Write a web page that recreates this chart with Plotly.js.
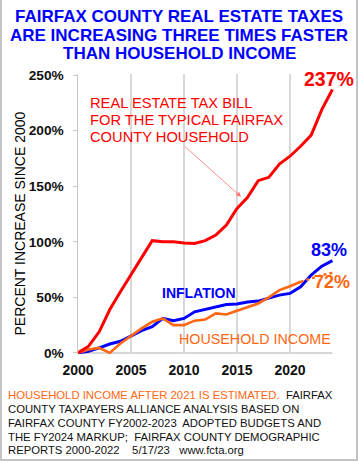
<!DOCTYPE html>
<html>
<head>
<meta charset="utf-8">
<script src="https://cdn.plot.ly/plotly-3.0.1.min.js"></script>
<style>
  html, body { margin: 0; padding: 0; background: #fff; }
  #chart { width: 358px; height: 462px; }
  #frame { position: absolute; left: 0; top: 0; width: 358px; height: 461px; box-sizing: border-box;
           border-left: 2px solid #c4c4c4; border-right: 2px solid #c4c4c4; border-bottom: 2px solid #c4c4c4;
           pointer-events: none; }
</style>
</head>
<body>
<div id="chart"></div>
<div id="frame"></div>
<script>
// ---- data (percent increase since 2000) ----
const years = [2000,2001,2002,2003,2004,2005,2006,2007,2008,2009,2010,2011,2012,2013,2014,2015,2016,2017,2018,2019,2020,2021,2022,2023,2024];
const taxBill = [0,6,19,39,55,70,85,101,100,100,99,98.5,101,106,115,130,140,155,158,170,177,186,196,219,237];
const inflation = [0,1.5,4.5,8,10.5,15,20,23.5,31,29,31,37,39,41.5,43.6,44,45.7,46.6,49.6,52,53.5,59.5,70,78,83];
const incomeYears = [2000,2001,2002,2003,2004,2005,2006,2007,2008,2009,2010,2011,2012,2013,2014,2015,2016,2017,2018,2019,2020,2021];
const income = [0,3,4.5,0,8.5,15.6,22,28,31,25,25,29,30,35.5,34.6,38,41,44.5,50,56.5,60,64];
const incomeEstYears = [2021,2022,2023,2024];
const incomeEst = [64,67,70,72];
const xTicks = [2000,2005,2010,2015,2020];
const yTicks = [0,50,100,150,200,250];
const yTickText = ['0%','50%','100%','150%','200%','250%'];

const RED = '#ff0000', BLUE = '#0000ff', ORANGE = '#ff6611';
const FONT = 'Liberation Sans, Arial, sans-serif';

const traces = [
  {x: years, y: inflation, mode: 'lines', line: {color: BLUE, width: 3}, cliponaxis: false},
  {x: incomeYears, y: income, mode: 'lines', line: {color: ORANGE, width: 2.6}, cliponaxis: false},
  {x: incomeEstYears, y: incomeEst, mode: 'lines', line: {color: ORANGE, width: 2.4, dash: 'dot'}, cliponaxis: false},
  {x: years, y: taxBill, mode: 'lines', line: {color: RED, width: 3}, cliponaxis: false}
];

const L = 78, W = 265, T = 74, H = 280;
function px(x) { return (x - L) / W; }
function py(y) { return (T + H - y) / H; }

const ann = [];
const titleLines = ['FAIRFAX COUNTY REAL ESTATE TAXES', 'ARE INCREASING THREE TIMES FASTER', 'THAN HOUSEHOLD INCOME'];
const titleY = [16, 35, 53];
titleLines.forEach((t, i) => ann.push({text: '<b>' + t + '</b>', xref: 'paper', yref: 'paper', x: px(179), y: py(titleY[i]),
  xanchor: 'center', yanchor: 'middle', showarrow: false, font: {family: FONT, size: 17, color: BLUE}}));

ann.push({text: 'PERCENT INCREASE SINCE 2000', xref: 'paper', yref: 'paper', x: px(19), y: py(223.5), textangle: -90,
  xanchor: 'center', yanchor: 'middle', showarrow: false, font: {family: FONT, size: 14, color: '#000'}});

const taxLines = ['REAL ESTATE TAX BILL', 'FOR THE TYPICAL FAIRFAX', 'COUNTY HOUSEHOLD'];
const taxY = [103, 120, 137];
taxLines.forEach((t, i) => ann.push({text: t, xref: 'paper', yref: 'paper', x: px(88), y: py(taxY[i]),
  xanchor: 'left', yanchor: 'middle', showarrow: false, font: {family: FONT, size: 14.7, color: RED}}));

ann.push({text: '', x: 2015.38, y: 140.5, xref: 'x', yref: 'y', showarrow: true, ax: -57.7, ay: -51.7,
  arrowcolor: '#ff7070', arrowwidth: 0.8, arrowhead: 2, arrowsize: 1.2});

ann.push({text: '<b>237%</b>', xref: 'paper', yref: 'paper', x: px(328.5), y: py(79), xanchor: 'center', yanchor: 'middle',
  showarrow: false, font: {family: FONT, size: 19.5, color: RED}});
ann.push({text: '<b>83%</b>', xref: 'paper', yref: 'paper', x: px(328.7), y: py(250), xanchor: 'center', yanchor: 'middle',
  showarrow: false, font: {family: FONT, size: 18, color: BLUE}});
ann.push({text: '<b>72%</b>', xref: 'paper', yref: 'paper', x: px(332.3), y: py(281.7), xanchor: 'center', yanchor: 'middle',
  showarrow: false, font: {family: FONT, size: 18, color: ORANGE}});
ann.push({text: '<b>INFLATION</b>', xref: 'paper', yref: 'paper', x: px(199.2), y: py(292.5), xanchor: 'center', yanchor: 'middle',
  showarrow: false, font: {family: FONT, size: 14, color: BLUE}});
ann.push({text: 'HOUSEHOLD INCOME', xref: 'paper', yref: 'paper', x: px(255.2), y: py(339), xanchor: 'center', yanchor: 'middle',
  showarrow: false, font: {family: FONT, size: 14.3, color: ORANGE}});

const foot = [
  '<span style="color:' + ORANGE + '">HOUSEHOLD INCOME AFTER 2021 IS ESTIMATED.</span>&nbsp; FAIRFAX',
  'COUNTY TAXPAYERS ALLIANCE ANALYSIS BASED ON',
  'FAIRFAX COUNTY FY2002-2023&nbsp; ADOPTED BUDGETS AND',
  'THE FY2024 MARKUP;&nbsp; FAIRFAX COUNTY DEMOGRAPHIC',
  'REPORTS 2000-2022&nbsp;&nbsp;&nbsp; 5/17/23&nbsp;&nbsp; www.fcta.org'
];
const footY = [395, 409.3, 423.3, 437, 450.5];
foot.forEach((t, i) => ann.push({text: t, xref: 'paper', yref: 'paper', x: px(6), y: py(footY[i]),
  xanchor: 'left', yanchor: 'middle', showarrow: false, font: {family: FONT, size: 11.3, color: '#111'}}));

const layout = {
  width: 358, height: 462,
  margin: {l: L, r: 358 - L - W, t: T, b: 462 - T - H, pad: 0},
  paper_bgcolor: '#fff', plot_bgcolor: '#fff',
  showlegend: false,
  font: {family: FONT},
  xaxis: {range: [2000, 2025], tickvals: xTicks, ticktext: xTicks.map(String), showgrid: true, gridcolor: '#d8d8d8', gridwidth: 1.5,
    zeroline: false, showline: false, ticks: '', tickfont: {family: FONT, size: 14, color: '#111', weight: 'bold'},
    ticklabelstandoff: 6, fixedrange: true},
  yaxis: {range: [-1, 251], tickvals: yTicks, ticktext: yTickText, showgrid: false, zeroline: false,
    showline: true, linecolor: '#c8c8c8', linewidth: 1.5, ticks: 'outside', ticklen: 4, tickcolor: '#c8c8c8', tickwidth: 1,
    tickfont: {family: FONT, size: 13.7, color: '#111', weight: 'bold'}, ticklabelstandoff: 6, fixedrange: true},
  shapes: [
    {type: 'line', xref: 'x', yref: 'y', x0: 2000, x1: 2024, y0: 0, y1: 0, line: {color: '#c8c8c8', width: 1.5}, layer: 'below'}
  ],
  annotations: ann
};

Plotly.newPlot('chart', traces, layout, {displayModeBar: false, staticPlot: true});
</script>
</body>
</html>
